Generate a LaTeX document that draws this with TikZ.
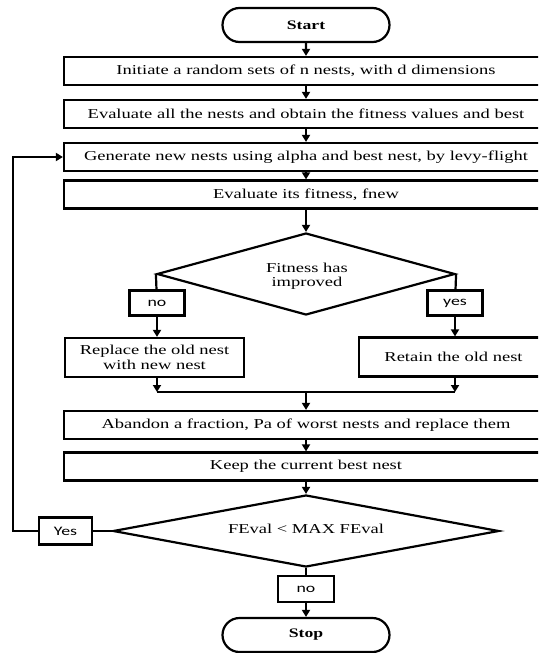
\documentclass[tikz,border=0pt]{standalone}
\usepackage{fontspec}
\setmainfont{Liberation Serif}[FakeStretch=1.36]
\newfontfamily\lblfont{Carlito}[FakeStretch=1.37]
\usetikzlibrary{shapes.geometric,shapes.misc,arrows.meta}

\begin{document}
\begin{tikzpicture}[x=1pt, y=-1pt, line width=2.2pt,
    txt/.style={font=\fontsize{13.6}{14.5}\selectfont},
    proc/.style={draw, rectangle, minimum width=484pt, minimum height=28pt, inner sep=0pt, txt},
    half/.style={draw, rectangle, minimum height=39pt, inner sep=0pt, align=center, txt},
    term/.style={draw, rounded rectangle, minimum width=167pt, minimum height=34pt, inner sep=0pt, font=\bfseries\fontsize{13}{15}\selectfont},
    test/.style={draw, diamond, inner sep=0pt},
    lbl/.style={draw, fill=white, rectangle, minimum width=55pt, minimum height=25pt, inner sep=0pt, font=\lblfont\fontsize{13}{14}\selectfont},
    arr/.style={-{Triangle[length=7pt,width=8pt]}}]
    \useasboundingbox (0,0) rectangle (538,653);
    \clip (0,0) rectangle (538,653);

    % Terminals
    \node[term] (start) at (306,25) {Start};
    \node[term] (stop) at (306,635) {Stop};

    % Main steps
    \node[proc] (init) at (306,71) {Initiate a random sets of n nests, with d dimensions};
    \node[proc] (evalall) at (306,114) {Evaluate all the nests and obtain the fitness values and best};
    \node[proc] (gen) at (306,157) {Generate new nests using alpha and best nest, by levy-flight};
    \node[proc] (evalfit) at (306,194.5) {Evaluate its fitness, fnew};

    % First test and its two branches
    \node[test, minimum width=298pt, minimum height=82pt] (improved) at (306,274) {};
    \node[txt, align=center] (improvedtxt) at (307,276) {Fitness has\\improved};
    \node[lbl] (no1) at (157,303) {no};
    \node[lbl] (yes1) at (455,303) {yes};
    \node[half, minimum width=179pt] (replace) at (154.5,357.5) {Replace the old nest\\with new nest};
    \node[half, minimum width=189pt] (retain) at (453.5,357) {Retain the old nest};

    \node[proc] (abandon) at (306,425) {Abandon a fraction, Pa of worst nests and replace them};
    \node[proc] (keep) at (306,466.5) {Keep the current best nest};

    % Second test
    \node[test, minimum width=386pt, minimum height=72pt] (maxeval) at (306,531) {};
    \node[txt] (maxevaltxt) at (306,529) {FEval < MAX FEval};
    \node[lbl, minimum width=53pt, minimum height=27pt] (yes2) at (65.5,531) {Yes};
    \node[lbl, minimum width=56pt, minimum height=26pt] (no2) at (306,589) {no};

    \coordinate (mergeL) at (157,392);
    \coordinate (mergeR) at (455,392);
    \coordinate (mergeC) at (306,392);
    \coordinate (loopB) at (13,531);

    % Connectors
    \draw[arr] (start) -- (init);
    \draw[arr] (init) -- (evalall);
    \draw[arr] (evalall) -- (gen);
    \draw[arr] (gen) -- (evalfit);
    \draw[arr] (evalfit) -- (improved);
    \draw (improved.west) -- (no1);
    \draw[arr] (no1) -- (replace.north -| no1);
    \draw (improved.east) -- (yes1);
    \draw[arr] (yes1) -- (retain.north -| yes1);
    \draw[arr] (replace.south -| mergeL) -- (mergeL);
    \draw[arr] (retain.south -| mergeR) -- (mergeR);
    \draw (mergeL) -- (mergeR);
    \draw[arr] (mergeC) -- (abandon);
    \draw[arr] (abandon) -- (keep);
    \draw[arr] (keep) -- (maxeval);
    \draw (maxeval) -- (no2);
    \draw[arr] (no2) -- (stop);

    % Loop back
    \draw (maxeval.west) -- (yes2);
    \draw[arr] (yes2) -- (loopB) |- (gen.west);
\end{tikzpicture}
\end{document}
